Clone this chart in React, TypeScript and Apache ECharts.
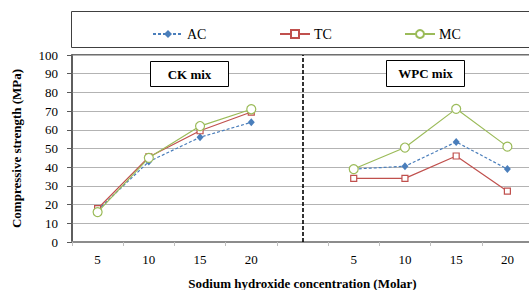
import React, { useEffect, useRef } from "react";
import * as echarts from "echarts";

const ckLabels = ["5", "10", "15", "20"];
const wpcLabels = ["5", "10", "15", "20"];
const categories = [...ckLabels, "", ...wpcLabels];

const acCK = [17, 43, 56, 64];
const acWPC = [39, 40.5, 53.5, 39];
const tcCK = [17.8, 45.5, 59.5, 69.5];
const tcWPC = [34, 34, 46, 27.2];
const mcCK = [16, 45, 62, 71];
const mcWPC = [39, 50.5, 71.2, 51];

const yTicks = { min: 0, max: 100, interval: 10 };

const SERIF = "Liberation Serif";

export default function App() {
  const ref = useRef<HTMLDivElement>(null);
  useEffect(() => {
    if (!ref.current) return;
    const chart = echarts.init(ref.current, null, { renderer: "svg" });
    const join = (a: number[], b: number[]) => [...a, "-", ...b];
    const blue = "#4A7EBB";
    const red = "#C0504D";
    const green = "#9BBB59";
    chart.setOption({
      animation: false,
      textStyle: { fontFamily: SERIF },
      grid: {
        left: 72,
        top: 55,
        right: -4,
        height: 187,
        show: true,
        borderColor: "#404040",
        borderWidth: 1.5,
        containLabel: false,
        outerBoundsMode: "none",
      },
      legend: [
        { data: ["AC"], left: 147, top: 22 },
        { data: ["TC"], left: 274, top: 22 },
        { data: ["MC"], left: 399, top: 22 },
      ].map((l) => ({
        ...l,
        itemWidth: 30,
        itemHeight: 10,
        itemGap: 4,
        textStyle: { fontFamily: SERIF, fontSize: 14, color: "#000", padding: [0, 0, 0, -1] },
      })),
      graphic: [
        {
          type: "rect",
          shape: { x: 71.5, y: 11.5, width: 470, height: 36 },
          style: { fill: "none", stroke: "#404040", lineWidth: 1 },
        },
        {
          type: "rect",
          shape: { x: 150.5, y: 61.5, width: 78, height: 25 },
          style: { fill: "#fff", stroke: "#000", lineWidth: 1 },
          z: 10,
        },
        {
          type: "text",
          x: 189.5,
          y: 74,
          style: {
            text: "CK mix",
            fontFamily: SERIF,
            fontWeight: "bold",
            fontSize: 13,
            fill: "#000",
            align: "center",
            verticalAlign: "middle",
          },
          z: 11,
        },
        {
          type: "rect",
          shape: { x: 386.5, y: 60.5, width: 78, height: 26 },
          style: { fill: "#fff", stroke: "#000", lineWidth: 1 },
          z: 10,
        },
        {
          type: "text",
          x: 425.5,
          y: 73.5,
          style: {
            text: "WPC mix",
            fontFamily: SERIF,
            fontWeight: "bold",
            fontSize: 13,
            fill: "#000",
            align: "center",
            verticalAlign: "middle",
          },
          z: 11,
        },
      ],
      xAxis: {
        type: "category",
        data: categories,
        boundaryGap: true,
        name: "Sodium hydroxide concentration (Molar)",
        nameLocation: "middle",
        nameGap: 35,
        nameTextStyle: { fontFamily: SERIF, fontWeight: "bold", fontSize: 13, color: "#000" },
        axisLine: { lineStyle: { color: "#8c8c8c", width: 2 } },
        axisTick: { show: true, length: 4, lineStyle: { color: "#bfbfbf" } },
        axisLabel: { fontFamily: SERIF, fontSize: 13, color: "#000", margin: 11, interval: 0 },
        splitLine: { show: false },
      },
      yAxis: {
        type: "value",
        ...yTicks,
        name: "Compressive strength (MPa)",
        nameLocation: "middle",
        nameGap: 49,
        nameTextStyle: { fontFamily: SERIF, fontWeight: "bold", fontSize: 13, color: "#000" },
        axisLine: { show: true, lineStyle: { color: "#595959", width: 1.5 } },
        axisTick: { show: true, length: 5, lineStyle: { color: "#595959" } },
        axisLabel: { fontFamily: SERIF, fontSize: 13, color: "#000", margin: 14 },
        splitLine: { lineStyle: { color: "#b3b3b3", width: 1 } },
      },
      series: [
        {
          name: "AC",
          type: "line",
          data: join(acCK, acWPC),
          symbol: "diamond",
          symbolSize: [7, 8],
          itemStyle: { color: blue },
          lineStyle: { color: blue, width: 1.2, type: [3, 2] },
          z: 3,
          markLine: {
            silent: true,
            symbol: "none",
            label: { show: false },
            lineStyle: { color: "#000", type: [4, 2], width: 1.6 },
            data: [{ xAxis: 4 }],
          },
        },
        {
          name: "TC",
          type: "line",
          data: join(tcCK, tcWPC),
          symbol: "rect",
          symbolSize: 6,
          itemStyle: { color: "#fff", borderColor: red, borderWidth: 1.2 },
          lineStyle: { color: red, width: 1.2 },
          z: 4,
        },
        {
          name: "MC",
          type: "line",
          data: join(mcCK, mcWPC),
          symbol: "circle",
          symbolSize: 9,
          itemStyle: { color: "#fff", borderColor: green, borderWidth: 1.2 },
          lineStyle: { color: green, width: 1.2 },
          z: 5,
        },
      ],
    });
    return () => chart.dispose();
  }, []);
  return <div ref={ref} style={{ width: 529, height: 290, position: "absolute", left: 0, top: 0 }} />;
}
